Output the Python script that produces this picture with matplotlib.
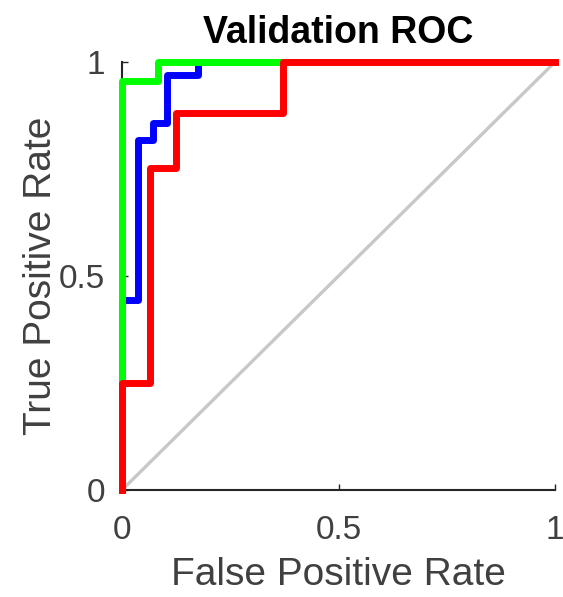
import matplotlib.pyplot as plt
import numpy as np

plt.rcParams['font.family'] = ['Liberation Sans', 'DejaVu Sans']

# ROC step curves (false positive rate, true positive rate)
fpr_blue = [0, 0, 0.037, 0.037, 0.072, 0.072, 0.103, 0.103, 0.175, 0.175, 1]
tpr_blue = [0, 0.445, 0.445, 0.818, 0.818, 0.857, 0.857, 0.97, 0.97, 1, 1]

fpr_green = [0, 0, 0.083, 0.083, 1]
tpr_green = [0, 0.955, 0.955, 1, 1]

fpr_red = [0, 0, 0.065, 0.065, 0.125, 0.125, 0.372, 0.372, 1]
tpr_red = [0, 0.25, 0.25, 0.752, 0.752, 0.88, 0.88, 1, 1]

ticks = [0, 0.5, 1]
tick_labels = ['0', '0.5', '1']

fig = plt.figure(figsize=(5.63, 5.97), dpi=100)
ax = fig.add_axes([122/563, 1 - 490/597, 433/563, 428/597])

ax.plot([0, 1], [0, 1], color='#c8c8c8', linewidth=2.4, zorder=2, clip_on=False)
ax.plot(fpr_blue, tpr_blue, color='#0000ff', linewidth=5, zorder=3, clip_on=False)
ax.plot(fpr_green, tpr_green, color='#00ff00', linewidth=5, zorder=4, clip_on=False)
ax.plot(fpr_red, tpr_red, color='#ff0000', linewidth=5, zorder=5, clip_on=False)

ax.set_xlim(0, 1)
ax.set_ylim(0, 1)
ax.set_xticks(ticks)
ax.set_xticklabels(tick_labels)
ax.set_yticks(ticks)
ax.set_yticklabels(tick_labels)
ax.tick_params(direction='in', length=4, width=1, colors='#262626',
               labelsize=24, labelcolor='#404040')
ax.tick_params(axis='x', pad=18)
ax.tick_params(axis='y', pad=12)

for side in ['top', 'right']:
    ax.spines[side].set_visible(False)
for side in ['bottom', 'left']:
    ax.spines[side].set_color('#262626')
    ax.spines[side].set_linewidth(1.5)
    ax.spines[side].set_zorder(1)

ax.set_title('Validation ROC', fontsize=27, fontweight='bold', pad=14)
ax.set_xlabel('False Positive Rate', fontsize=28, color='#404040', labelpad=8)
ax.set_ylabel('True Positive Rate', fontsize=28, color='#404040', labelpad=0)

fig.savefig('out.png', dpi=100)
